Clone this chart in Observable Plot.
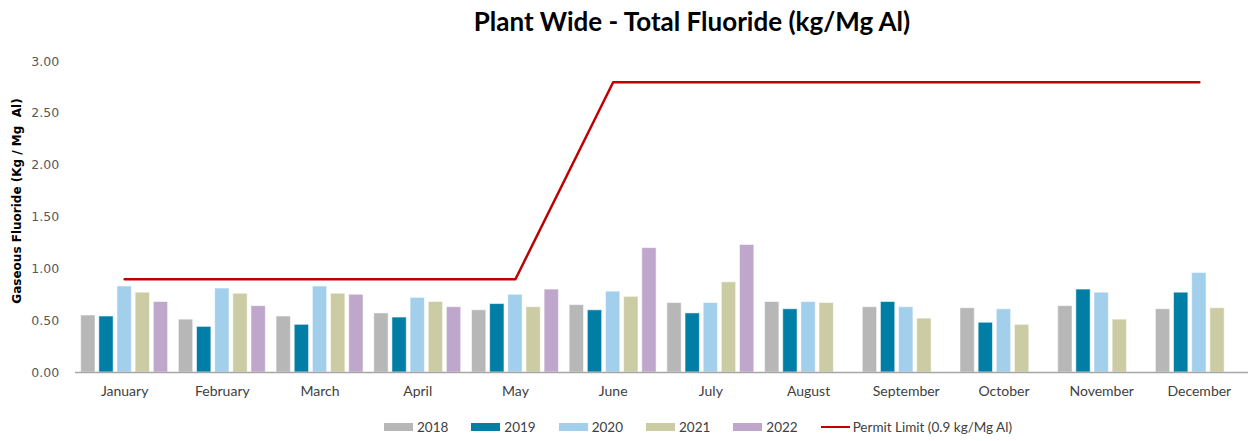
<!DOCTYPE html>
<html>
<head>
<meta charset="utf-8">
<script src="https://cdn.jsdelivr.net/npm/d3@7"></script>
<script src="https://cdn.jsdelivr.net/npm/@observablehq/plot@0.6"></script>
<style>
  html, body { margin: 0; padding: 0; background: #fff; }
  #wrap { width: 1248px; height: 441px; position: relative; overflow: hidden; }
  #title { position: absolute; left: 0; top: 0; width: 1248px; height: 45px; box-sizing: border-box; padding-left: 136px;
           text-align: center; font-family: Lato, "Open Sans", sans-serif; font-weight: bold; font-size: 26px; line-height: 42px; color: #000; }
  #chart { position: absolute; left: 0; top: 45px; width: 1248px; }
  #chart svg { position: absolute; left: 0; top: 0; overflow: visible; }
  #chart svg.overlay { background: transparent !important; }
  #legend { position: absolute; left: 0; top: 419px; width: 1248px; box-sizing: border-box; padding-left: 148px;
            display: flex; justify-content: center; font-family: Lato, "Open Sans", sans-serif; font-size: 13.5px; color: #404040; }
  .item { display: flex; align-items: center; margin: 0 11.5px; }
  .sw { width: 29px; height: 8px; margin-right: 4px; }
  .ln { width: 29px; height: 2px; margin-right: 3px; background: #c00000; }
</style>
</head>
<body>
<div id="wrap">
  <div id="title">Plant Wide - Total Fluoride (kg/Mg Al)</div>
  <div id="chart"></div>
  <div id="legend"></div>
</div>
<script>
const months = ["January","February","March","April","May","June","July","August","September","October","November","December"];
const years = ["2018","2019","2020","2021","2022"];
const colors = ["#b7b7b7","#007ea5","#a2cfec","#cbcca4","#bfa7cb"];
const v2018 = [0.55,0.51,0.54,0.57,0.60,0.65,0.67,0.68,0.63,0.62,0.64,0.61];
const v2019 = [0.54,0.44,0.46,0.53,0.66,0.60,0.57,0.61,0.68,0.48,0.80,0.77];
const v2020 = [0.83,0.81,0.83,0.72,0.75,0.78,0.67,0.68,0.63,0.61,0.77,0.96];
const v2021 = [0.77,0.76,0.76,0.68,0.63,0.73,0.87,0.67,0.52,0.46,0.51,0.62];
const v2022 = [0.68,0.64,0.75,0.63,0.80,1.20,1.23,null,null,null,null,null];
const permit = [0.9,0.9,0.9,0.9,0.9,2.8,2.8,2.8,2.8,2.8,2.8,2.8];
const permitLabel = "Permit Limit (0.9 kg/Mg Al)";
const yTicks = [0,0.5,1,1.5,2,2.5,3];
const yLabel = "Gaseous Fluoride (Kg / Mg  Al)";

const series = [v2018, v2019, v2020, v2021, v2022];
const bars = [];
months.forEach((m, i) => years.forEach((y, j) => {
  const v = series[j][i];
  if (v != null) bars.push({month: m, year: y, value: v});
}));
const limit = months.map((m, i) => ({month: m, value: permit[i]}));

const W = 1248, H = 372, ML = 75, MR = 0, MT = 16, MB = 45;
const padIn = 0.11, padOut = 0.058;

const barPlot = Plot.plot({
  width: W, height: H, marginLeft: ML, marginRight: MR, marginTop: MT, marginBottom: MB,
  style: {fontFamily: "DejaVu Sans, sans-serif", fontSize: "12.5px", color: "#595959", background: "white"},
  fx: {domain: months, paddingInner: padIn, paddingOuter: padOut, round: false, label: null},
  x: {domain: years, paddingInner: 0.21, paddingOuter: 0, round: false, axis: null},
  y: {domain: [0, 3], axis: null},
  color: {domain: years, range: colors},
  marks: [
    Plot.barY(bars, {fx: "month", x: "year", y: "value", fill: "year", stroke: "white", strokeOpacity: 0.55, strokeWidth: 1}),
    Plot.axisFx({anchor: "bottom", tickSize: 0, tickPadding: 14, label: null, fontSize: 14,
                 fontFamily: "Lato, sans-serif", fill: "#404040"}),
    Plot.axisY({ticks: yTicks, tickFormat: d3.format(".2f"), tickSize: 0, tickPadding: 22,
                label: null, fill: "#595959"})
  ]
});

const linePlot = Plot.plot({
  width: W, height: H, marginLeft: ML, marginRight: MR, marginTop: MT, marginBottom: MB,
  style: {background: "transparent"},
  x: {type: "band", domain: months, paddingInner: padIn, paddingOuter: padOut, round: false, axis: null},
  y: {domain: [0, 3], axis: null},
  marks: [
    Plot.ruleY([0], {stroke: "#a6a6a6", strokeWidth: 1.5}),
    Plot.lineY(limit, {x: "month", y: "value", stroke: "#c00000", strokeWidth: 2.5}),
    Plot.text([yLabel], {frameAnchor: "left", rotate: -90, dx: -58, dy: -16, textAnchor: "middle",
                         fontWeight: "bold", fontSize: 12, fontFamily: "DejaVu Sans, sans-serif", fill: "#000"})
  ]
});
linePlot.classList.add("overlay");

const chart = document.getElementById("chart");
chart.appendChild(barPlot);
chart.appendChild(linePlot);

const legend = document.getElementById("legend");
years.forEach((y, j) => {
  const it = document.createElement("div"); it.className = "item";
  const sw = document.createElement("span"); sw.className = "sw"; sw.style.background = colors[j];
  const t = document.createElement("span"); t.textContent = y;
  it.appendChild(sw); it.appendChild(t); legend.appendChild(it);
});
{
  const it = document.createElement("div"); it.className = "item";
  const sw = document.createElement("span"); sw.className = "ln";
  const t = document.createElement("span"); t.textContent = permitLabel;
  it.appendChild(sw); it.appendChild(t); legend.appendChild(it);
}
</script>
</body>
</html>
